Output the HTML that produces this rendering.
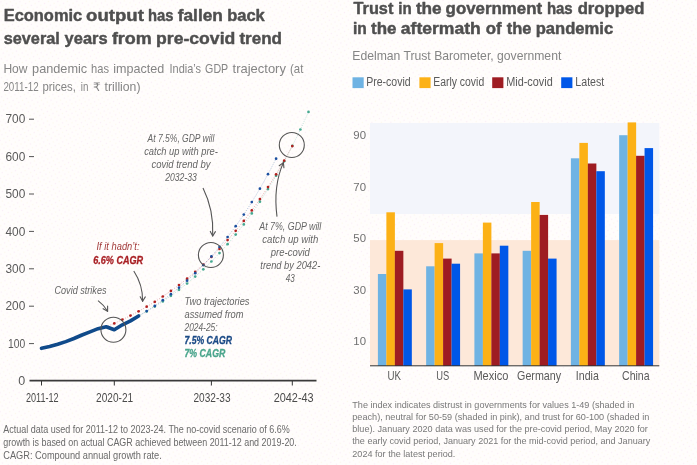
<!DOCTYPE html>
<html lang="en">
<head>
<meta charset="utf-8">
<title>Economic output and trust in government</title>
<style>
html,body{margin:0;padding:0;background:#fefcfa;}
body{width:697px;height:465px;overflow:hidden;}
svg{display:block;font-family:"Liberation Sans","DejaVu Sans",sans-serif;}
</style>
</head>
<body>
<svg width="697" height="465" viewBox="0 0 697 465">
<defs>
<pattern id="ht" width="6" height="6" patternUnits="userSpaceOnUse" patternTransform="rotate(18)">
<rect width="6" height="6" fill="#fffdfc"/>
<circle cx="1.5" cy="1.5" r="0.65" fill="#fbedf7"/>
<circle cx="4.5" cy="4.5" r="0.65" fill="#fdf8ec"/>
</pattern>
</defs>
<rect width="697" height="465" fill="#fefcfa"/>
<rect width="697" height="465" fill="url(#ht)"/>
<text y="21.4" font-size="17" fill="#4f4f4f" font-weight="bold" stroke="#4f4f4f" stroke-width="0.45" stroke-linejoin="round"><tspan x="3.7" textLength="78.5" lengthAdjust="spacingAndGlyphs">Economic</tspan> <tspan x="86.1" textLength="57.8" lengthAdjust="spacingAndGlyphs">output</tspan> <tspan x="147.9" textLength="25.5" lengthAdjust="spacingAndGlyphs">has</tspan> <tspan x="177.7" textLength="45.2" lengthAdjust="spacingAndGlyphs">fallen</tspan> <tspan x="227.2" textLength="37.6" lengthAdjust="spacingAndGlyphs">back</tspan></text>
<text y="44.0" font-size="17" fill="#4f4f4f" font-weight="bold" stroke="#4f4f4f" stroke-width="0.45" stroke-linejoin="round"><tspan x="3.7" textLength="56.1" lengthAdjust="spacingAndGlyphs">several</tspan> <tspan x="64.6" textLength="43.0" lengthAdjust="spacingAndGlyphs">years</tspan> <tspan x="111.9" textLength="39.9" lengthAdjust="spacingAndGlyphs">from</tspan> <tspan x="156.1" textLength="79.2" lengthAdjust="spacingAndGlyphs">pre-covid</tspan> <tspan x="239.4" textLength="42.6" lengthAdjust="spacingAndGlyphs">trend</tspan></text>
<text y="72.5" font-size="13.2" fill="#858585"><tspan x="3.4" textLength="24.1" lengthAdjust="spacingAndGlyphs">How</tspan> <tspan x="32.1" textLength="55.1" lengthAdjust="spacingAndGlyphs">pandemic</tspan> <tspan x="91.1" textLength="17.9" lengthAdjust="spacingAndGlyphs">has</tspan> <tspan x="113.2" textLength="51.0" lengthAdjust="spacingAndGlyphs">impacted</tspan> <tspan x="169.5" textLength="31.5" lengthAdjust="spacingAndGlyphs">India’s</tspan> <tspan x="205.1" textLength="22.9" lengthAdjust="spacingAndGlyphs">GDP</tspan> <tspan x="232.6" textLength="53.3" lengthAdjust="spacingAndGlyphs">trajectory</tspan> <tspan x="290.0" textLength="13.3" lengthAdjust="spacingAndGlyphs">(at</tspan></text>
<text y="91.2" font-size="13.2" fill="#858585"><tspan x="3.4" textLength="35.2" lengthAdjust="spacingAndGlyphs">2011-12</tspan> <tspan x="42.5" textLength="33.3" lengthAdjust="spacingAndGlyphs">prices,</tspan> <tspan x="80.8" textLength="7.6" lengthAdjust="spacingAndGlyphs">in</tspan> <tspan x="93.0" textLength="7.6" lengthAdjust="spacingAndGlyphs" font-size="11.6">₹</tspan> <tspan x="104.5" textLength="36.0" lengthAdjust="spacingAndGlyphs">trillion)</tspan></text>
<text x="25.3" y="385.2" font-size="12.5" fill="#5a5a5a" text-anchor="end">0</text>
<text x="25.3" y="347.8" font-size="12.5" fill="#5a5a5a" text-anchor="end" textLength="17.2" lengthAdjust="spacingAndGlyphs">100</text>
<line x1="29" y1="343.6" x2="34" y2="343.6" stroke="#555" stroke-width="1"/>
<text x="25.3" y="310.4" font-size="12.5" fill="#5a5a5a" text-anchor="end" textLength="19.8" lengthAdjust="spacingAndGlyphs">200</text>
<line x1="29" y1="306.2" x2="34" y2="306.2" stroke="#555" stroke-width="1"/>
<text x="25.3" y="273.0" font-size="12.5" fill="#5a5a5a" text-anchor="end" textLength="19.8" lengthAdjust="spacingAndGlyphs">300</text>
<line x1="29" y1="268.8" x2="34" y2="268.8" stroke="#555" stroke-width="1"/>
<text x="25.3" y="235.6" font-size="12.5" fill="#5a5a5a" text-anchor="end" textLength="19.8" lengthAdjust="spacingAndGlyphs">400</text>
<line x1="29" y1="231.4" x2="34" y2="231.4" stroke="#555" stroke-width="1"/>
<text x="25.3" y="198.2" font-size="12.5" fill="#5a5a5a" text-anchor="end" textLength="19.8" lengthAdjust="spacingAndGlyphs">500</text>
<line x1="29" y1="194.0" x2="34" y2="194.0" stroke="#555" stroke-width="1"/>
<text x="25.3" y="160.8" font-size="12.5" fill="#5a5a5a" text-anchor="end" textLength="19.8" lengthAdjust="spacingAndGlyphs">600</text>
<line x1="29" y1="156.6" x2="34" y2="156.6" stroke="#555" stroke-width="1"/>
<text x="25.3" y="123.4" font-size="12.5" fill="#5a5a5a" text-anchor="end" textLength="19.8" lengthAdjust="spacingAndGlyphs">700</text>
<line x1="29" y1="119.2" x2="34" y2="119.2" stroke="#555" stroke-width="1"/>
<line x1="29.5" y1="380.6" x2="316.5" y2="380.6" stroke="#3a3a3a" stroke-width="1.6"/>
<line x1="41.5" y1="381.0" x2="41.5" y2="385.5" stroke="#333" stroke-width="1"/>
<text x="42.3" y="402.1" font-size="13" fill="#4a4a4a" text-anchor="middle" textLength="32.7" lengthAdjust="spacingAndGlyphs">2011-12</text>
<line x1="114.3" y1="381.0" x2="114.3" y2="385.5" stroke="#333" stroke-width="1"/>
<text x="114.6" y="402.1" font-size="13" fill="#4a4a4a" text-anchor="middle" textLength="37.0" lengthAdjust="spacingAndGlyphs">2020-21</text>
<line x1="211.4" y1="381.0" x2="211.4" y2="385.5" stroke="#333" stroke-width="1"/>
<text x="212.0" y="402.1" font-size="13" fill="#4a4a4a" text-anchor="middle" textLength="37.0" lengthAdjust="spacingAndGlyphs">2032-33</text>
<line x1="292.3" y1="381.0" x2="292.3" y2="385.5" stroke="#333" stroke-width="1"/>
<text x="293.7" y="402.1" font-size="13" fill="#4a4a4a" text-anchor="middle" textLength="40.0" lengthAdjust="spacingAndGlyphs">2042-43</text>
<path d="M138.6,316.0 L146.7,311.4 L154.8,306.6 L162.8,301.4 L170.9,295.8 L179.0,289.8 L187.1,283.5 L195.2,276.6 L203.3,269.3 L211.4,261.5 L219.5,253.1 L227.6,244.2 L235.7,234.6 L243.8,224.4 L251.8,213.4 L259.9,201.7 L268.0,189.1 L276.1,175.7 L284.2,161.3 L292.3,145.9 L300.4,129.5 L308.5,111.9" fill="none" stroke="#45a890" stroke-width="0.7" stroke-dasharray="0.8 1.5" opacity="0.6"/>
<circle cx="146.7" cy="311.4" r="1.35" fill="#45a890"/>
<circle cx="154.8" cy="306.6" r="1.35" fill="#45a890"/>
<circle cx="162.8" cy="301.4" r="1.35" fill="#45a890"/>
<circle cx="170.9" cy="295.8" r="1.35" fill="#45a890"/>
<circle cx="179.0" cy="289.8" r="1.35" fill="#45a890"/>
<circle cx="187.1" cy="283.5" r="1.35" fill="#45a890"/>
<circle cx="195.2" cy="276.6" r="1.35" fill="#45a890"/>
<circle cx="203.3" cy="269.3" r="1.35" fill="#45a890"/>
<circle cx="211.4" cy="261.5" r="1.35" fill="#45a890"/>
<circle cx="219.5" cy="253.1" r="1.35" fill="#45a890"/>
<circle cx="227.6" cy="244.2" r="1.35" fill="#45a890"/>
<circle cx="235.7" cy="234.6" r="1.35" fill="#45a890"/>
<circle cx="243.8" cy="224.4" r="1.35" fill="#45a890"/>
<circle cx="251.8" cy="213.4" r="1.35" fill="#45a890"/>
<circle cx="259.9" cy="201.7" r="1.35" fill="#45a890"/>
<circle cx="268.0" cy="189.1" r="1.35" fill="#45a890"/>
<circle cx="276.1" cy="175.7" r="1.35" fill="#45a890"/>
<circle cx="284.2" cy="161.3" r="1.35" fill="#45a890"/>
<circle cx="292.3" cy="145.9" r="1.35" fill="#45a890"/>
<circle cx="300.4" cy="129.5" r="1.35" fill="#45a890"/>
<circle cx="308.5" cy="111.9" r="1.35" fill="#45a890"/>
<path d="M106.2,326.7 L114.3,323.4 L122.4,319.6 L130.5,315.6 L138.6,311.3 L146.7,306.7 L154.8,301.8 L162.8,296.5 L170.9,290.9 L179.0,285.0 L187.1,278.7 L195.2,271.9 L203.3,264.7 L211.4,257.0 L219.5,248.9 L227.6,240.1 L235.7,230.8 L243.8,220.9 L251.8,210.4 L259.9,199.1 L268.0,187.1 L276.1,174.3 L284.2,160.7 L292.3,146.1" fill="none" stroke="#b3201f" stroke-width="0.7" stroke-dasharray="0.8 1.5" opacity="0.6"/>
<circle cx="114.3" cy="323.4" r="1.35" fill="#b3201f"/>
<circle cx="122.4" cy="319.6" r="1.35" fill="#b3201f"/>
<circle cx="130.5" cy="315.6" r="1.35" fill="#b3201f"/>
<circle cx="138.6" cy="311.3" r="1.35" fill="#b3201f"/>
<circle cx="146.7" cy="306.7" r="1.35" fill="#b3201f"/>
<circle cx="154.8" cy="301.8" r="1.35" fill="#b3201f"/>
<circle cx="162.8" cy="296.5" r="1.35" fill="#b3201f"/>
<circle cx="170.9" cy="290.9" r="1.35" fill="#b3201f"/>
<circle cx="179.0" cy="285.0" r="1.35" fill="#b3201f"/>
<circle cx="187.1" cy="278.7" r="1.35" fill="#b3201f"/>
<circle cx="195.2" cy="271.9" r="1.35" fill="#b3201f"/>
<circle cx="203.3" cy="264.7" r="1.35" fill="#b3201f"/>
<circle cx="211.4" cy="257.0" r="1.35" fill="#b3201f"/>
<circle cx="219.5" cy="248.9" r="1.35" fill="#b3201f"/>
<circle cx="227.6" cy="240.1" r="1.35" fill="#b3201f"/>
<circle cx="235.7" cy="230.8" r="1.35" fill="#b3201f"/>
<circle cx="243.8" cy="220.9" r="1.35" fill="#b3201f"/>
<circle cx="251.8" cy="210.4" r="1.35" fill="#b3201f"/>
<circle cx="259.9" cy="199.1" r="1.35" fill="#b3201f"/>
<circle cx="268.0" cy="187.1" r="1.35" fill="#b3201f"/>
<circle cx="276.1" cy="174.3" r="1.35" fill="#b3201f"/>
<circle cx="284.2" cy="160.7" r="1.35" fill="#b3201f"/>
<circle cx="292.3" cy="146.1" r="1.35" fill="#b3201f"/>
<path d="M138.6,316.0 L146.7,311.1 L154.8,305.9 L162.8,300.2 L170.9,294.2 L179.0,287.7 L187.1,280.7 L195.2,273.2 L203.3,265.1 L211.4,256.4 L219.5,247.0 L227.6,237.0 L235.7,226.2 L243.8,214.6 L251.8,202.1 L259.9,188.7 L268.0,174.2 L276.1,158.7" fill="none" stroke="#1b4fa0" stroke-width="0.7" stroke-dasharray="0.8 1.5" opacity="0.6"/>
<circle cx="146.7" cy="311.1" r="1.35" fill="#1b4fa0"/>
<circle cx="154.8" cy="305.9" r="1.35" fill="#1b4fa0"/>
<circle cx="162.8" cy="300.2" r="1.35" fill="#1b4fa0"/>
<circle cx="170.9" cy="294.2" r="1.35" fill="#1b4fa0"/>
<circle cx="179.0" cy="287.7" r="1.35" fill="#1b4fa0"/>
<circle cx="187.1" cy="280.7" r="1.35" fill="#1b4fa0"/>
<circle cx="195.2" cy="273.2" r="1.35" fill="#1b4fa0"/>
<circle cx="203.3" cy="265.1" r="1.35" fill="#1b4fa0"/>
<circle cx="211.4" cy="256.4" r="1.35" fill="#1b4fa0"/>
<circle cx="219.5" cy="247.0" r="1.35" fill="#1b4fa0"/>
<circle cx="227.6" cy="237.0" r="1.35" fill="#1b4fa0"/>
<circle cx="235.7" cy="226.2" r="1.35" fill="#1b4fa0"/>
<circle cx="243.8" cy="214.6" r="1.35" fill="#1b4fa0"/>
<circle cx="251.8" cy="202.1" r="1.35" fill="#1b4fa0"/>
<circle cx="259.9" cy="188.7" r="1.35" fill="#1b4fa0"/>
<circle cx="268.0" cy="174.2" r="1.35" fill="#1b4fa0"/>
<circle cx="276.1" cy="158.7" r="1.35" fill="#1b4fa0"/>
<path d="M41.5,348.3 L49.6,346.6 L57.7,344.3 L65.8,341.6 L73.9,338.5 L82.0,335.0 L90.0,331.9 L98.1,328.7 L106.2,326.7 L114.3,329.8 L122.4,324.8 L130.5,320.9 L138.6,316.0" fill="none" stroke="#104a8a" stroke-width="3.6" stroke-linejoin="round" stroke-linecap="round"/>
<circle cx="113.4" cy="329.8" r="12.5" fill="none" stroke="#555" stroke-width="1.1"/>
<circle cx="210.9" cy="255.0" r="12.5" fill="none" stroke="#555" stroke-width="1.1"/>
<circle cx="291.8" cy="145.0" r="12.5" fill="none" stroke="#555" stroke-width="1.1"/>
<text x="181.0" y="142.4" font-size="10.3" fill="#666" font-style="italic" text-anchor="middle" textLength="66.8" lengthAdjust="spacingAndGlyphs">At 7.5%, GDP will</text>
<text x="181.0" y="155.2" font-size="10.3" fill="#666" font-style="italic" text-anchor="middle" textLength="73.6" lengthAdjust="spacingAndGlyphs">catch up with pre-</text>
<text x="181.0" y="167.9" font-size="10.3" fill="#666" font-style="italic" text-anchor="middle" textLength="59.2" lengthAdjust="spacingAndGlyphs">covid trend by</text>
<text x="181.0" y="180.7" font-size="10.3" fill="#666" font-style="italic" text-anchor="middle" textLength="31.6" lengthAdjust="spacingAndGlyphs">2032-33</text>
<text x="290.3" y="229.9" font-size="10.3" fill="#666" font-style="italic" text-anchor="middle" textLength="62.0" lengthAdjust="spacingAndGlyphs">At 7%, GDP will</text>
<text x="290.3" y="242.8" font-size="10.3" fill="#666" font-style="italic" text-anchor="middle" textLength="56.0" lengthAdjust="spacingAndGlyphs">catch up with</text>
<text x="290.3" y="255.7" font-size="10.3" fill="#666" font-style="italic" text-anchor="middle" textLength="39.0" lengthAdjust="spacingAndGlyphs">pre-covid</text>
<text x="290.3" y="268.6" font-size="10.3" fill="#666" font-style="italic" text-anchor="middle" textLength="60.0" lengthAdjust="spacingAndGlyphs">trend by 2042-</text>
<text x="290.3" y="281.5" font-size="10.3" fill="#666" font-style="italic" text-anchor="middle" textLength="9.0" lengthAdjust="spacingAndGlyphs">43</text>
<text x="118.0" y="250.3" font-size="10.3" fill="#a23b3b" font-style="italic" text-anchor="middle" textLength="43.0" lengthAdjust="spacingAndGlyphs">If it hadn’t:</text>
<text x="118.2" y="263.5" font-size="10.3" fill="#a81f24" font-weight="bold" font-style="italic" text-anchor="middle" textLength="50.0" lengthAdjust="spacingAndGlyphs" stroke="#a81f24" stroke-width="0.3">6.6% CAGR</text>
<text x="80.5" y="293.8" font-size="10.3" fill="#666" font-style="italic" text-anchor="middle" textLength="52.0" lengthAdjust="spacingAndGlyphs">Covid strikes</text>
<text x="184.5" y="305.0" font-size="10.3" fill="#666" font-style="italic" textLength="65.0" lengthAdjust="spacingAndGlyphs">Two trajectories</text>
<text x="184.5" y="317.8" font-size="10.3" fill="#666" font-style="italic" textLength="59.0" lengthAdjust="spacingAndGlyphs">assumed from</text>
<text x="184.5" y="330.6" font-size="10.3" fill="#666" font-style="italic" textLength="33.0" lengthAdjust="spacingAndGlyphs">2024-25:</text>
<text x="184.5" y="343.6" font-size="10.3" fill="#1b4a86" font-weight="bold" font-style="italic" textLength="47.6" lengthAdjust="spacingAndGlyphs" stroke="#1b4a86" stroke-width="0.3">7.5% CAGR</text>
<text x="184.5" y="356.6" font-size="10.3" fill="#4aa58c" font-weight="bold" font-style="italic" textLength="40.8" lengthAdjust="spacingAndGlyphs" stroke="#4aa58c" stroke-width="0.3">7% CAGR</text>
<path d="M203,188 Q214,210 212.7,236" fill="none" stroke="#555" stroke-width="1.1"/>
<line x1="212.7" y1="236.0" x2="210.3" y2="231.4" stroke="#555" stroke-width="1.1" stroke-linecap="round"/>
<line x1="212.7" y1="236.0" x2="215.4" y2="231.6" stroke="#555" stroke-width="1.1" stroke-linecap="round"/>
<path d="M277,216.6 Q273,186 283.4,162.6" fill="none" stroke="#555" stroke-width="1.1"/>
<line x1="283.4" y1="162.6" x2="283.9" y2="167.8" stroke="#555" stroke-width="1.1" stroke-linecap="round"/>
<line x1="283.4" y1="162.6" x2="279.2" y2="165.7" stroke="#555" stroke-width="1.1" stroke-linecap="round"/>
<path d="M133.8,271 Q143,285 142.6,301.3" fill="none" stroke="#555" stroke-width="1.1"/>
<line x1="142.6" y1="301.3" x2="140.2" y2="296.7" stroke="#555" stroke-width="1.1" stroke-linecap="round"/>
<line x1="142.6" y1="301.3" x2="145.3" y2="296.9" stroke="#555" stroke-width="1.1" stroke-linecap="round"/>
<path d="M98,300.6 Q104,305 107.6,311.3" fill="none" stroke="#555" stroke-width="1.1"/>
<line x1="107.6" y1="311.3" x2="103.1" y2="308.7" stroke="#555" stroke-width="1.1" stroke-linecap="round"/>
<line x1="107.6" y1="311.3" x2="107.6" y2="306.1" stroke="#555" stroke-width="1.1" stroke-linecap="round"/>
<text x="3.3" y="433.0" font-size="10.2" fill="#6a6a6a" textLength="286.5" lengthAdjust="spacingAndGlyphs">Actual data used for 2011-12 to 2023-24. The no-covid scenario of 6.6%</text>
<text x="3.3" y="445.8" font-size="10.2" fill="#6a6a6a" textLength="293.5" lengthAdjust="spacingAndGlyphs">growth is based on actual CAGR achieved between 2011-12 and 2019-20.</text>
<text x="3.3" y="458.6" font-size="10.2" fill="#6a6a6a" textLength="158.5" lengthAdjust="spacingAndGlyphs">CAGR: Compound annual growth rate.</text>
<text y="13.8" font-size="16.5" fill="#4f4f4f" font-weight="bold" stroke="#4f4f4f" stroke-width="0.45" stroke-linejoin="round"><tspan x="353.5" textLength="39.8" lengthAdjust="spacingAndGlyphs">Trust</tspan> <tspan x="398.2" textLength="13.4" lengthAdjust="spacingAndGlyphs">in</tspan> <tspan x="415.9" textLength="25.8" lengthAdjust="spacingAndGlyphs">the</tspan> <tspan x="445.6" textLength="96.6" lengthAdjust="spacingAndGlyphs">government</tspan> <tspan x="546.9" textLength="25.8" lengthAdjust="spacingAndGlyphs">has</tspan> <tspan x="577.7" textLength="66.7" lengthAdjust="spacingAndGlyphs">dropped</tspan></text>
<text y="34.2" font-size="16.5" fill="#4f4f4f" font-weight="bold" stroke="#4f4f4f" stroke-width="0.45" stroke-linejoin="round"><tspan x="353.0" textLength="13.8" lengthAdjust="spacingAndGlyphs">in</tspan> <tspan x="371.1" textLength="25.4" lengthAdjust="spacingAndGlyphs">the</tspan> <tspan x="400.8" textLength="80.0" lengthAdjust="spacingAndGlyphs">aftermath</tspan> <tspan x="485.8" textLength="15.9" lengthAdjust="spacingAndGlyphs">of</tspan> <tspan x="506.7" textLength="24.7" lengthAdjust="spacingAndGlyphs">the</tspan> <tspan x="535.7" textLength="77.5" lengthAdjust="spacingAndGlyphs">pandemic</tspan></text>
<text x="352.3" y="59.9" font-size="13" fill="#858585" textLength="209.0" lengthAdjust="spacingAndGlyphs">Edelman Trust Barometer, government</text>
<rect x="352.5" y="77.3" width="11.2" height="10.8" fill="#6fb3e3"/>
<text x="366.2" y="86.0" font-size="12" fill="#5a5a5a" textLength="44.5" lengthAdjust="spacingAndGlyphs">Pre-covid</text>
<rect x="419.4" y="77.3" width="11.2" height="10.8" fill="#fcb116"/>
<text x="433.2" y="86.0" font-size="12" fill="#5a5a5a" textLength="51.0" lengthAdjust="spacingAndGlyphs">Early covid</text>
<rect x="492.2" y="77.3" width="11.2" height="10.8" fill="#9e1c22"/>
<text x="506.2" y="86.0" font-size="12" fill="#5a5a5a" textLength="46.5" lengthAdjust="spacingAndGlyphs">Mid-covid</text>
<rect x="561.2" y="77.3" width="11.2" height="10.8" fill="#0057e8"/>
<text x="575.3" y="86.0" font-size="12" fill="#5a5a5a" textLength="29.0" lengthAdjust="spacingAndGlyphs">Latest</text>
<rect x="370" y="123" width="289.3" height="91" fill="#f3f5fb"/>
<rect x="370" y="240.1" width="289.3" height="125.5" fill="#fde8d9"/>
<text x="366.0" y="139.3" font-size="11.4" fill="#707070" text-anchor="end">90</text>
<text x="366.0" y="190.7" font-size="11.4" fill="#707070" text-anchor="end">70</text>
<text x="366.0" y="242.1" font-size="11.4" fill="#707070" text-anchor="end">50</text>
<text x="366.0" y="293.5" font-size="11.4" fill="#707070" text-anchor="end">30</text>
<text x="366.0" y="344.9" font-size="11.4" fill="#707070" text-anchor="end">10</text>
<rect x="377.90" y="274.0" width="8.52" height="92.0" fill="#6fb3e3"/>
<rect x="386.37" y="212.3" width="8.52" height="153.7" fill="#fcb116"/>
<rect x="394.84" y="250.8" width="8.52" height="115.2" fill="#9e1c22"/>
<rect x="403.31" y="289.4" width="8.52" height="76.6" fill="#0057e8"/>
<text x="394.2" y="379.6" font-size="12.4" fill="#5a5a5a" text-anchor="middle" textLength="13.5" lengthAdjust="spacingAndGlyphs">UK</text>
<rect x="426.15" y="266.3" width="8.52" height="99.7" fill="#6fb3e3"/>
<rect x="434.62" y="243.1" width="8.52" height="122.9" fill="#fcb116"/>
<rect x="443.09" y="258.6" width="8.52" height="107.4" fill="#9e1c22"/>
<rect x="451.56" y="263.7" width="8.52" height="102.3" fill="#0057e8"/>
<text x="442.7" y="379.6" font-size="12.4" fill="#5a5a5a" text-anchor="middle" textLength="13.0" lengthAdjust="spacingAndGlyphs">US</text>
<rect x="474.40" y="253.4" width="8.52" height="112.6" fill="#6fb3e3"/>
<rect x="482.87" y="222.6" width="8.52" height="143.4" fill="#fcb116"/>
<rect x="491.34" y="253.4" width="8.52" height="112.6" fill="#9e1c22"/>
<rect x="499.81" y="245.7" width="8.52" height="120.3" fill="#0057e8"/>
<text x="490.9" y="379.6" font-size="12.4" fill="#5a5a5a" text-anchor="middle" textLength="35.0" lengthAdjust="spacingAndGlyphs">Mexico</text>
<rect x="522.65" y="250.8" width="8.52" height="115.2" fill="#6fb3e3"/>
<rect x="531.12" y="202.0" width="8.52" height="164.0" fill="#fcb116"/>
<rect x="539.59" y="214.9" width="8.52" height="151.1" fill="#9e1c22"/>
<rect x="548.06" y="258.6" width="8.52" height="107.4" fill="#0057e8"/>
<text x="539.1" y="379.6" font-size="12.4" fill="#5a5a5a" text-anchor="middle" textLength="44.0" lengthAdjust="spacingAndGlyphs">Germany</text>
<rect x="570.90" y="158.3" width="8.52" height="207.7" fill="#6fb3e3"/>
<rect x="579.37" y="142.9" width="8.52" height="223.1" fill="#fcb116"/>
<rect x="587.84" y="163.5" width="8.52" height="202.5" fill="#9e1c22"/>
<rect x="596.31" y="171.2" width="8.52" height="194.8" fill="#0057e8"/>
<text x="587.3" y="379.6" font-size="12.4" fill="#5a5a5a" text-anchor="middle" textLength="23.0" lengthAdjust="spacingAndGlyphs">India</text>
<rect x="619.15" y="135.2" width="8.52" height="230.8" fill="#6fb3e3"/>
<rect x="627.62" y="122.4" width="8.52" height="243.6" fill="#fcb116"/>
<rect x="636.09" y="155.8" width="8.52" height="210.2" fill="#9e1c22"/>
<rect x="644.56" y="148.1" width="8.52" height="217.9" fill="#0057e8"/>
<text x="635.8" y="379.6" font-size="12.4" fill="#5a5a5a" text-anchor="middle" textLength="27.5" lengthAdjust="spacingAndGlyphs">China</text>
<line x1="370" y1="365.8" x2="659.3" y2="365.8" stroke="#333" stroke-width="1"/>
<text x="352.3" y="408.1" font-size="9.8" fill="#787878" textLength="282.0" lengthAdjust="spacingAndGlyphs">The index indicates distrust in governments for values 1-49 (shaded in</text>
<text x="352.3" y="420.2" font-size="9.8" fill="#787878" textLength="297.0" lengthAdjust="spacingAndGlyphs">peach), neutral for 50-59 (shaded in pink), and trust for 60-100 (shaded in</text>
<text x="352.3" y="432.3" font-size="9.8" fill="#787878" textLength="295.5" lengthAdjust="spacingAndGlyphs">blue). January 2020 data was used for the pre-covid period, May 2020 for</text>
<text x="352.3" y="444.4" font-size="9.8" fill="#787878" textLength="298.0" lengthAdjust="spacingAndGlyphs">the early covid period, January 2021 for the mid-covid period, and January</text>
<text x="352.3" y="456.5" font-size="9.8" fill="#787878" textLength="103.0" lengthAdjust="spacingAndGlyphs">2024 for the latest period.</text>
</svg>
</body>
</html>
